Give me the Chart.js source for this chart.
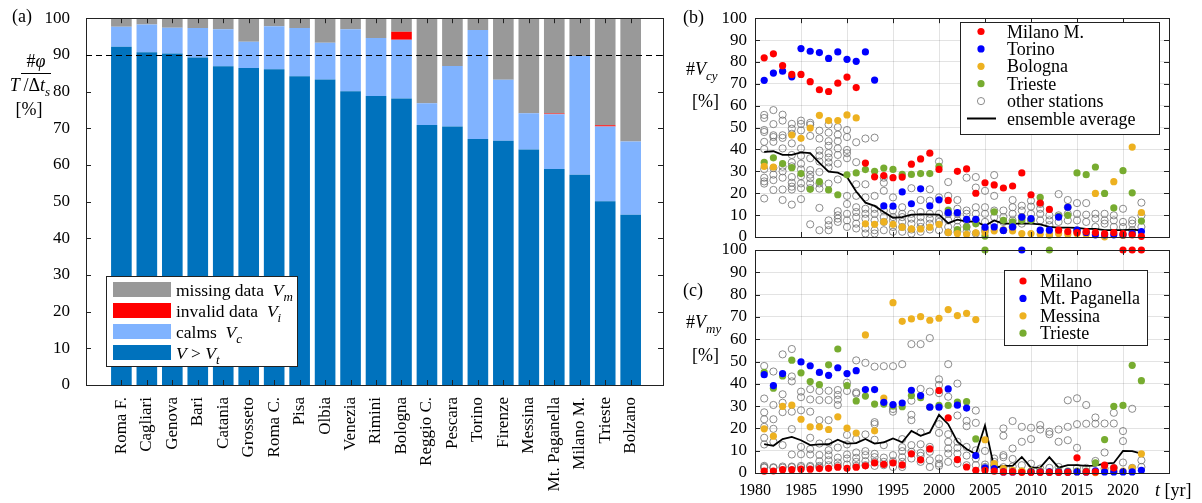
<!DOCTYPE html>
<html>
<head>
<meta charset="utf-8">
<script src="https://cdn.jsdelivr.net/npm/chart.js@4.4.1/dist/chart.umd.min.js"></script>
<style>
html, body { margin: 0; padding: 0; background: #fff; }
#wrap { position: relative; width: 1202px; height: 503px; overflow: hidden; }
canvas { position: absolute; left: 0; top: 0; }
</style>
</head>
<body>
<div id="wrap">
    <canvas id="barChart" width="1202" height="503"></canvas>
    <canvas id="cyChart" width="1202" height="503"></canvas>
    <canvas id="myChart" width="1202" height="503"></canvas>
</div>
<script>
// ---- panel (a): share of each station record ----
const stations = ['Roma F.', 'Cagliari', 'Genova', 'Bari', 'Catania', 'Grosseto', 'Roma C.', 'Pisa', 'Olbia', 'Venezia',
                  'Rimini', 'Bologna', 'Reggio C.', 'Pescara', 'Torino', 'Firenze', 'Messina', 'Mt. Paganella', 'Milano M.', 'Trieste', 'Bolzano'];
const aboveVt = [92.2, 90.7, 90.4, 89.3, 86.9, 86.4, 86.1, 84.2, 83.3, 80.1, 78.8, 78.1, 70.9, 70.5, 67.1, 66.6, 64.2, 58.9, 57.3, 50.1, 46.4];
const calms   = [5.5, 7.6, 7.0, 8.0, 10.1, 7.2, 11.7, 13.1, 10.0, 16.9, 15.8, 16.0, 5.9, 16.5, 29.7, 16.6, 9.9, 14.9, 32.4, 20.4, 20.0];
const invalid = [0, 0, 0, 0, 0, 0, 0, 0, 0, 0, 0, 2.2, 0, 0, 0, 0, 0, 0.2, 0, 0.3, 0];
const missing = [2.3, 1.7, 2.6, 2.7, 3.0, 6.4, 2.2, 2.7, 6.7, 3.0, 5.4, 3.7, 23.2, 13.0, 3.2, 16.8, 25.9, 26.0, 10.3, 29.2, 33.6];

// ---- panels (b) and (c): yearly values ----
const years = [1981, 1982, 1983, 1984, 1985, 1986, 1987, 1988, 1989, 1990,
               1991, 1992, 1993, 1994, 1995, 1996, 1997, 1998, 1999, 2000,
               2001, 2002, 2003, 2004, 2005, 2006, 2007, 2008, 2009, 2010,
               2011, 2012, 2013, 2014, 2015, 2016, 2017, 2018, 2019, 2020,
               2021, 2022];

const milanoCy = [81.9, 83.7, 78.3, 74.3, 74.3, 71.0, 67.3, 66.5, 70.3, 73.1,
                  68.3, 33.8, 27.5, 28.1, 27.1, 27.4, 33.3, 35.7, 38.3, 30.9,
                  16.7, 30.0, 31.1, 20.0, 24.8, 23.8, 22.4, 23.3, 29.3, 19.3,
                  15.5, 12.6, 3.1, 2.5, 2.0, 2.5, 2.0, 1.5, 2.0, 1.5,
                  1.0, 0.3];
const torinoCy = [71.6, 74.9, 75.8, 73.2, 86.1, 84.9, 84.3, 81.6, 84.6, 81.2,
                  80.3, 84.6, 71.7, 14.2, 14.1, 20.6, 15.2, 22.0, 14.2, 17.0,
                  11.1, 11.1, 8.1, 8.1, 4.5, 4.6, 3.0, 4.6, 9.1, 8.4,
                  3.1, 3.1, 9.1, 13.6, 3.1, 2.1, 1.0, 1.0, 1.0, 1.0,
                  1.5, 2.5];
const bolognaCy = [32.3, 32.0, null, 46.6, 45.1, 49.8, 55.6, 53.2, 53.2, 55.8,
                   54.4, 6.0, 5.8, 6.9, 5.8, 4.5, 3.7, 3.7, 4.5, 5.8,
                   2.1, 1.6, 1.2, 1.9, 2.1, 2.8, 3.1, 2.8, 1.6, 1.6,
                   1.3, 1.2, 1.6, 1.2, 1.6, 1.3, 19.9, 0.1, 25.3, 0.7,
                   41.1, 11.2];
const triesteCy = [34.1, 36.2, 33.6, 31.7, 29.0, 21.8, 25.3, 21.5, 19.3, 28.4,
                   29.3, 30.8, 30.0, 31.5, 30.9, 28.6, 28.6, 29.0, 29.0, 32.3,
                   12.3, 3.4, 4.6, 6.0, 0.4, 11.5, 7.6, 6.9, 7.6, 7.6,
                   18.1, 0.9, 9.4, 9.9, 29.3, 28.5, 32.0, 19.9, 13.3, 30.3,
                   20.2, 7.3];
const averageCy = [38.9, 39.2, 37.5, 37.5, 38.7, 38.3, 33.9, 29.9, 29.4, 27.4,
                   20.8, 15.7, 14.2, 11.4, 8.8, 9.1, 10.2, 10.3, 10.3, 10.2,
                   6.3, 7.9, 7.0, 7.0, 5.1, 7.6, 6.1, 6.1, 6.1, 6.1,
                   5.8, 4.6, 4.3, 4.3, 4.2, 3.7, 3.7, 3.1, 3.1, 3.1,
                   3.4, 3.0];
const othersCy = [
    [55.8, 54.4, 48.9, 48.0, 43.5, 40.2, 31.0, 27.1, 25.4, 24.4, 17.6],
    [58.0, 51.6, 46.5, 45.7, 43.5, 31.5, 28.5, 26.0, 21.5],
    [55.9, 53.2, 46.5, 45.3, 40.5, 32.1, 30.0, 27.1, 21.7, 16.9],
    [51.7, 49.5, 47.2, 42.8, 37.5, 34.1, 32.3, 27.4, 24.8, 23.0, 21.7, 14.8],
    [53.2, 51.7, 48.7, 40.5, 37.1, 33.5, 30.9, 27.8, 24.5, 22.3, 17.3],
    [52.2, 51.3, 46.2, 36.0, 30.6, 28.5, 26.9, 24.5, 22.3, 5.8],
    [48.6, 45.0, 39.5, 37.2, 34.5, 29.7, 24.5, 22.1, 13.3, 3.1],
    [51.4, 47.7, 43.8, 41.7, 38.3, 36.3, 34.1, 31.8, 24.4, 7.6, 5.4, 3.1],
    [50.2, 46.8, 43.8, 40.5, 37.5, 33.5, 26.3, 11.8, 9.9, 8.4, 6.9],
    [48.9, 45.7, 39.8, 38.3, 36.0, 18.8, 15.1, 10.6, 7.6, 4.6],
    [43.3, 34.2, 24.1, 18.8, 13.6, 11.4, 9.1, 6.1, 3.9],
    [45.0, 24.1, 18.1, 12.9, 10.6, 8.4, 3.9, 1.6],
    [45.4, 18.8, 12.9, 10.6, 7.6, 3.1, 1.6],
    [27.1, 24.8, 21.1, 12.1, 9.1, 6.9, 3.1],
    [18.1, 12.1, 9.1, 7.6, 4.6, 2.4],
    [13.6, 10.6, 9.1, 6.9, 4.6, 2.4],
    [22.3, 10.6, 8.4, 6.1, 3.4, 1.6],
    [16.9, 11.4, 9.1, 6.6, 4.6, 2.4],
    [21.8, 16.6, 10.6, 8.4, 6.1, 3.4],
    [34.5, 18.1, 10.6, 8.4, 6.9, 3.1],
    [25.1, 18.8, 10.6, 7.6, 4.6, 2.1],
    [16.9, 12.9, 10.6, 7.6, 4.6, 2.4],
    [27.1, 12.1, 10.6, 7.6, 4.6, 2.4],
    [27.4, 22.6, 13.6, 10.6, 7.6, 1.6],
    [21.1, 13.6, 10.6, 6.9, 3.1],
    [28.3, 18.8, 12.1, 9.1, 6.1],
    [12.1, 9.1, 6.9, 3.1],
    [16.9, 13.6, 10.6, 7.6, 4.6],
    [14.3, 12.1, 9.1, 6.1],
    [16.6, 13.9, 10.6, 7.6],
    [15.1, 12.9, 10.6, 7.6],
    [9.9, 7.6, 5.4],
    [19.6, 9.9, 6.9],
    [16.9, 13.6, 10.6, 7.6],
    [15.5, 10.6, 7.6, 3.1],
    [15.5, 10.2, 6.9],
    [10.6, 8.4, 4.6],
    [10.6, 7.6, 6.1],
    [9.9, 7.6, 4.6],
    [12.9, 6.9, 4.6],
    [7.6, 6.1, 3.1],
    [15.7, 9.9, 4.6]
];

const milanoMy = [0.8, 0.9, 1.5, 1.5, 1.7, 1.7, 2.0, 2.1, 2.6, 2.1,
                  2.6, 3.2, 4.5, 3.9, 4.5, 3.6, 8.6, 5.9, 10.8, 37.0,
                  24.7, 6.0, 2.7, 1.2, 1.2, 0.8, 0.5, 0.5, 0.3, 0.3,
                  0.3, 0.3, 0.3, 0.3, 6.8, 0.5, 0.5, 3.5, 2.3, 100,
                  100, 100];
const paganellaMy = [44.1, 39.2, 44.6, null, 49.8, 48.1, 45.1, 43.8, 47.2, 44.6,
                     45.9, 37.4, 37.4, 31.7, 30.7, 31.4, 37.1, 34.7, 29.5, 29.5,
                     37.7, 30.4, 29.1, 7.8, 2.3, 2.0, 0.5, 0.5, 100, 0.5,
                     0.5, 0.5, 0.5, 0.5, 0.5, 0.5, 1.0, 0.5, 0.5, 0.5,
                     0.5, 1.2];
const messinaMy = [19.8, 16.5, 29.9, 30.4, 24.1, 20.7, 20.7, 19.5, 25.2, 20.1,
                   17.9, 61.9, 18.9, 33.6, 76.4, 68.0, 69.1, 70.1, 68.5, 69.4,
                   73.3, 70.6, 71.6, 68.8, 14.9, 4.2, 2.0, 1.2, 0.8, 0.8,
                   0.8, 0.5, 0.5, 0.5, 0.5, 0.5, 0.2, 1.2, 0.8, 0.8,
                   2.3, 8.6];
const triesteMy = [45.1, 38.0, 43.5, 50.6, 44.9, 41.0, 39.6, 48.5, 55.6, 39.2,
                   32.3, 34.5, 30.9, 30.9, 30.0, 29.7, 34.7, 33.8, 29.6, 30.3,
                   30.3, 31.8, 32.0, 15.3, 100, 3.5, 1.5, 0.8, 0.8, 0.8,
                   0.8, 100, 0.8, 0.8, 0.8, 0.8, 4.5, 15.0, 29.9, 30.3,
                   48.3, 41.4];
const averageMy = [12.9, 12.2, 15.2, 16.2, 14.7, 12.5, 12.8, 12.9, 14.9, 13.2,
                   13.4, 15.3, 13.2, 13.7, 15.5, 13.8, 18.9, 16.7, 18.2, 26.1,
                   21.9, 14.0, 10.8, 8.4, 21.3, 2.3, 3.2, 3.2, 7.2, 2.4,
                   2.4, 7.1, 2.4, 3.5, 3.5, 3.2, 3.3, 4.2, 4.5, 9.9,
                   9.8, 8.7];
const othersMy = [
    [48.0, 33.4, 27.2, 24.1, 20.7, 15.8, 12.8, 3.2, 2.7, 2.4],
    [45.5, 30.5, 24.1, 19.8, 14.0, 2.6, 2.3],
    [53.2, 35.3, 31.5, 27.3, 12.5, 2.9, 2.4],
    [55.6, 43.3, 41.1, 27.5, 19.7, 8.3, 2.9, 2.6],
    [36.5, 34.0, 28.1, 11.7, 8.4, 3.2, 2.6],
    [37.6, 33.0, 27.5, 15.8, 10.7, 8.3, 3.2, 2.7],
    [36.8, 32.7, 23.7, 13.2, 8.1, 5.3, 3.2, 2.6],
    [36.9, 32.7, 23.7, 13.7, 10.2, 8.0, 5.7, 3.5],
    [37.2, 35.0, 32.9, 30.5, 11.4, 6.9, 4.7, 3.2],
    [40.5, 36.8, 17.1, 12.8, 8.3, 6.5, 3.8],
    [50.5, 36.2, 35.6, 15.2, 9.2, 6.8, 5.0, 3.2],
    [49.4, 17.3, 9.8, 8.0, 5.3, 3.5],
    [47.7, 22.8, 21.9, 14.9, 8.6, 7.1, 5.0, 3.2],
    [47.9, 12.5, 6.9, 5.0, 3.5],
    [47.9, 28.7, 27.5, 8.0, 5.3, 2.7],
    [48.8, 15.2, 11.6, 9.8, 7.1, 5.0, 2.7],
    [57.8, 32.4, 26.1, 23.7, 12.5, 9.5, 6.5],
    [57.8, 37.7, 18.2, 12.9, 9.0, 7.7, 5.0],
    [60.5, 36.5, 11.7, 9.5, 5.7, 2.7],
    [42.0, 39.5, 35.8, 21.9, 18.0, 6.5, 4.2, 3.2],
    [48.8, 34.2, 17.4, 14.0, 11.0, 8.7, 5.0],
    [40.1, 25.8, 14.0, 11.3, 8.7, 4.2],
    [23.4, 21.0, 11.7, 7.8, 3.5],
    [28.0, 22.5, 10.2, 6.5, 3.5],
    [9.9, 3.8, 2.7],
    [6.5, 5.0, 3.2],
    [20.0, 16.7, 8.0, 7.1, 2.6],
    [23.3, 11.0, 6.3, 2.9],
    [20.7, 14.0, 3.5],
    [20.3, 15.2, 4.2],
    [21.5, 19.5, 2.0],
    [18.5, 17.4, 2.3],
    [19.5, 14.0, 2.7],
    [32.6, 20.7, 14.7],
    [33.5, 21.9, 11.3, 2.3],
    [30.5, 22.1, 2.3],
    [24.9, 22.1, 5.4],
    [22.2, 9.2, 2.0],
    [27.0, 22.2, 2.3],
    [18.8, 14.3, 4.7],
    [28.8, 2.3],
    [5.7, 2.7]
];

const yTicks = [0, 10, 20, 30, 40, 50, 60, 70, 80, 90, 100];

// ---- look ----
const SERIF = '"Liberation Serif", "Times New Roman", serif';
const RED = 'rgb(255,0,0)', BLUE = 'rgb(0,0,255)', YELLOW = 'rgb(237,177,32)', GREEN = 'rgb(119,172,48)';
const GRID = 'rgba(0,0,0,0.11)';
const FRAME = '#222';

Chart.defaults.font.family = SERIF;
Chart.defaults.font.size = 16;
Chart.defaults.color = '#000';

// text with italic parts and subscripts: parts = [text, italic, subscript]
function richFont(p, size) {
    const s = p[2] ? Math.round(size * 0.72) : size;
    return (p[1] ? 'italic ' : '') + s + 'px ' + SERIF;
}
function drawRich(ctx, parts, x, y, size, align) {
    let w = 0;
    parts.forEach(p => { ctx.font = richFont(p, size); w += ctx.measureText(p[0]).width; });
    let cx = align === 'center' ? x - w / 2 : x;
    ctx.textAlign = 'left';
    ctx.textBaseline = 'alphabetic';
    ctx.fillStyle = '#000';
    parts.forEach(p => {
        ctx.font = richFont(p, size);
        ctx.fillText(p[0], cx, y + (p[2] ? size * 0.3 : 0));
        cx += ctx.measureText(p[0]).width;
    });
}
function legendFrame(ctx, x0, y0, x1, y1) {
    ctx.fillStyle = '#fff';
    ctx.fillRect(x0, y0, x1 - x0, y1 - y0);
    ctx.strokeStyle = FRAME;
    ctx.lineWidth = 1;
    ctx.strokeRect(x0 + 0.5, y0 + 0.5, x1 - x0, y1 - y0);
}

// box around the axes with inward ticks on all four sides
const frame = {
    id: 'frame',
    afterDatasetsDraw(chart) {
        const { ctx, chartArea: a, scales: { x, y } } = chart;
        ctx.save();
        ctx.strokeStyle = FRAME;
        ctx.lineWidth = 1;
        ctx.beginPath();
        x.ticks.forEach(t => {
            const px = Math.round(x.getPixelForValue(t.value)) + 0.5;
            ctx.moveTo(px, a.top); ctx.lineTo(px, a.top + 5);
            ctx.moveTo(px, a.bottom); ctx.lineTo(px, a.bottom - 5);
        });
        y.ticks.forEach(t => {
            const py = Math.round(y.getPixelForValue(t.value)) + 0.5;
            ctx.moveTo(a.left, py); ctx.lineTo(a.left + 5, py);
            ctx.moveTo(a.right, py); ctx.lineTo(a.right - 5, py);
        });
        ctx.stroke();
        ctx.strokeRect(Math.round(a.left) + 0.5, Math.round(a.top) + 0.5,
                       Math.round(a.right - a.left), Math.round(a.bottom - a.top));
        ctx.restore();
    }
};

// ---- (a) stacked bars ----
const barExtras = {
    id: 'barExtras',
    afterDraw(chart) {
        const { ctx, chartArea: a, scales: { y } } = chart;
        ctx.save();
        // 90 % line
        const py = Math.round(y.getPixelForValue(90)) + 0.5;
        ctx.strokeStyle = '#000';
        ctx.setLineDash([6, 4]);
        ctx.beginPath(); ctx.moveTo(a.left, py); ctx.lineTo(a.right, py); ctx.stroke();
        ctx.setLineDash([]);

        // legend
        legendFrame(ctx, 106, 276, 297, 366);
        const items = [
            ['#999999', [['missing data  ', 0], ['V', 1], ['m', 1, 1]]],
            [RED, [['invalid data  ', 0], ['V', 1], ['i', 1, 1]]],
            ['#80B3FF', [['calms  ', 0], ['V', 1], ['c', 1, 1]]],
            ['#0072BD', [['V', 1], [' > ', 0], ['V', 1], ['t', 1, 1]]]
        ];
        items.forEach((it, i) => {
            const cy = 289.5 + 21 * i;
            ctx.fillStyle = it[0];
            ctx.fillRect(113, cy - 7.5, 58, 15);
            drawRich(ctx, it[1], 176, cy + 6, 17.5);
        });

        // labels
        drawRich(ctx, [['(a)', 0]], 12, 22, 18);
        drawRich(ctx, [['#', 0], ['φ', 1]], 36, 67, 18, 'center');
        ctx.fillStyle = '#000';
        ctx.fillRect(21, 73, 30, 1);
        drawRich(ctx, [['T', 1], ['\u2009/', 0], ['Δ', 0], ['t', 1], ['s', 1, 1]], 30, 91, 18, 'center');
        drawRich(ctx, [['[%]', 0]], 29, 115, 18, 'center');
        ctx.restore();
    }
};

const toBars = arr => arr.map((v, i) => ({ x: i + 1, y: v }));

new Chart(document.getElementById('barChart'), {
    type: 'bar',
    data: {
        datasets: [
            { label: 'V > Vt', data: toBars(aboveVt), backgroundColor: '#0072BD' },
            { label: 'calms', data: toBars(calms), backgroundColor: '#80B3FF' },
            { label: 'invalid data', data: toBars(invalid), backgroundColor: RED },
            { label: 'missing data', data: toBars(missing), backgroundColor: '#999999' }
        ]
    },
    options: {
        responsive: false,
        animation: false,
        layout: { padding: { left: 0, right: 1202 - 663, top: 15, bottom: 0 } },
        datasets: { bar: { barPercentage: 0.81, categoryPercentage: 1 } },
        scales: {
            x: {
                type: 'linear',
                stacked: true,
                min: 0.15,
                max: 21.73,
                afterBuildTicks: s => { s.ticks = stations.map((n, i) => ({ value: i + 1 })); },
                ticks: {
                    autoSkip: false,
                    minRotation: 90,
                    maxRotation: 90,
                    padding: 4,
                    font: { size: 17 },
                    callback: v => stations[v - 1]
                },
                grid: { display: false },
                border: { display: false },
                afterFit: s => { s.height = 503 - 385; }
            },
            y: {
                stacked: true,
                min: 0,
                max: 100,
                afterBuildTicks: s => { s.ticks = yTicks.map(v => ({ value: v })); },
                ticks: { padding: 8, autoSkip: false, font: { size: 17 } },
                grid: { display: false },
                border: { display: false },
                afterFit: s => { s.width = 86; }
            }
        },
        plugins: { legend: { display: false }, tooltip: { enabled: false } }
    },
    plugins: [frame, barExtras]
});

// ---- (b) and (c) scatter panels ----
const toPoints = arr => years.map((yr, i) => ({ x: yr, y: arr[i] })).filter(p => p.y !== null);
const toOthers = lists => years.flatMap((yr, i) => lists[i].map(v => ({ x: yr, y: v })));

function dotLegend(ctx, box, markerX, textX, rowY, rows) {
    legendFrame(ctx, box[0], box[1], box[2], box[3]);
    rows.forEach((r, i) => {
        const cy = rowY + 17.4 * i;
        if (r.kind === 'line') {
            ctx.strokeStyle = '#000';
            ctx.lineWidth = 2;
            ctx.beginPath(); ctx.moveTo(markerX - 14, cy); ctx.lineTo(markerX + 15, cy); ctx.stroke();
        } else if (r.kind === 'open') {
            ctx.strokeStyle = '#6e6e6e';
            ctx.lineWidth = 0.8;
            ctx.beginPath(); ctx.arc(markerX, cy, 3.6, 0, Math.PI * 2); ctx.stroke();
        } else {
            ctx.fillStyle = r.color;
            ctx.beginPath(); ctx.arc(markerX, cy, 3.6, 0, Math.PI * 2); ctx.fill();
        }
        drawRich(ctx, [[r.label, 0]], textX, cy + 6, 18);
    });
}

function scatterPanel(id, top, bottom, showX, named, others, average, drawText) {
    const sets = named.map(s => ({
        label: s.label,
        data: toPoints(s.values),
        pointBackgroundColor: s.color,
        pointBorderColor: s.color,
        pointBorderWidth: 0,
        pointRadius: 3.6,
        clip: false
    }));
    sets.push({
        label: 'ensemble average',
        data: toPoints(average),
        showLine: true,
        borderColor: '#000',
        borderWidth: 1.8,
        pointRadius: 0
    });
    sets.push({
        label: 'other stations',
        data: toOthers(others),
        pointBackgroundColor: 'rgba(0,0,0,0)',
        pointBorderColor: '#6e6e6e',
        pointBorderWidth: 0.8,
        pointRadius: 3.6
    });
    return new Chart(document.getElementById(id), {
        type: 'scatter',
        data: { datasets: sets },
        options: {
            responsive: false,
            animation: false,
            layout: { padding: { left: 0, right: 1202 - 1169, top: top, bottom: 0 } },
            scales: {
                x: {
                    type: 'linear',
                    min: 1980,
                    max: 2025,
                    ticks: {
                        stepSize: 5,
                        display: showX,
                        autoSkip: false,
                        padding: 8,
                        maxRotation: 0,
                        callback: v => (v > 2020 ? '' : String(v))
                    },
                    grid: { color: GRID, drawTicks: false },
                    border: { display: false },
                    afterFit: s => { s.height = 503 - bottom; }
                },
                y: {
                    min: 0,
                    max: 100,
                    afterBuildTicks: s => { s.ticks = yTicks.map(v => ({ value: v })); },
                    ticks: { padding: 8, autoSkip: false, font: { size: 17 } },
                    grid: { color: GRID, drawTicks: false },
                    border: { display: false },
                    afterFit: s => { s.width = 755; }
                }
            },
            plugins: { legend: { display: false }, tooltip: { enabled: false } }
        },
        plugins: [frame, { id: id + 'Text', afterDraw: chart => { chart.ctx.save(); drawText(chart.ctx); chart.ctx.restore(); } }]
    });
}

scatterPanel('cyChart', 14, 237, false,
    [
        { label: 'Milano M.', values: milanoCy, color: RED },
        { label: 'Torino', values: torinoCy, color: BLUE },
        { label: 'Bologna', values: bolognaCy, color: YELLOW },
        { label: 'Trieste', values: triesteCy, color: GREEN }
    ],
    othersCy, averageCy,
    ctx => {
        dotLegend(ctx, [960, 22, 1159, 134], 981, 1007, 31.5, [
            { label: 'Milano M.', color: RED },
            { label: 'Torino', color: BLUE },
            { label: 'Bologna', color: YELLOW },
            { label: 'Trieste', color: GREEN },
            { label: 'other stations', kind: 'open' },
            { label: 'ensemble average', kind: 'line' }
        ]);
        drawRich(ctx, [['(b)', 0]], 683, 23, 18);
        drawRich(ctx, [['#', 0], ['V', 1], ['cy', 1, 1]], 686, 75, 18);
        drawRich(ctx, [['[%]', 0]], 692, 107, 18);
    });

scatterPanel('myChart', 250, 473, true,
    [
        { label: 'Milano', values: milanoMy, color: RED },
        { label: 'Mt. Paganella', values: paganellaMy, color: BLUE },
        { label: 'Messina', values: messinaMy, color: YELLOW },
        { label: 'Trieste', values: triesteMy, color: GREEN }
    ],
    othersMy, averageMy,
    ctx => {
        dotLegend(ctx, [1004, 270, 1147, 345], 1023, 1040, 281, [
            { label: 'Milano', color: RED },
            { label: 'Mt. Paganella', color: BLUE },
            { label: 'Messina', color: YELLOW },
            { label: 'Trieste', color: GREEN }
        ]);
        drawRich(ctx, [['(c)', 0]], 683, 296, 18);
        drawRich(ctx, [['#', 0], ['V', 1], ['my', 1, 1]], 686, 328, 18);
        drawRich(ctx, [['[%]', 0]], 692, 361, 18);
        drawRich(ctx, [['t', 1], [' [yr]', 0]], 1155, 496, 18);
    });
</script>
</body>
</html>
